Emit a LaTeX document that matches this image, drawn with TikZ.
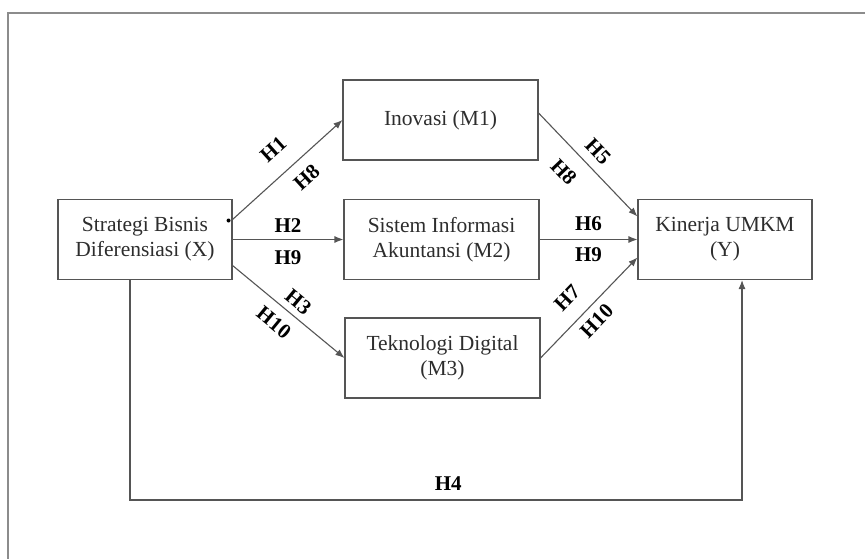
\documentclass[tikz,border=0pt]{standalone}
\usepackage{fontspec}
\setmainfont{Liberation Serif}
\usetikzlibrary{arrows.meta}
\definecolor{linegray}{RGB}{85,85,85}
\definecolor{framegray}{RGB}{140,140,140}
\definecolor{textgray}{RGB}{45,45,45}

\begin{document}
\begin{tikzpicture}[x=1pt, y=-1pt,
    box/.style={draw=linegray, line width=1.1pt, rectangle, minimum width=195pt, minimum height=80pt, align=center, text=textgray, font=\fontsize{21.5}{25}\selectfont},
    hlab/.style={font=\bfseries\fontsize{21}{24}\selectfont, text=black, inner sep=0pt},
    arr/.style={draw=linegray, line width=1.1pt, -{Latex[length=9pt, width=7pt]}}]
				\useasboundingbox (0,0) rectangle (865,559);
				% frame
				\draw[framegray, line width=1.4pt] (8,559) -- (8,13) -- (865,13);
				% nodes
				\node[box, minimum width=174pt] (x) at (145,239.5) {Strategi Bisnis\\Diferensiasi (X)};
				\node[box] (m1) at (440.5,120) {Inovasi (M1)};
				\node[box] (m2) at (441.5,239.5) {Sistem Informasi\\Akuntansi (M2)};
				\node[box] (m3) at (442.5,358) {Teknologi Digital\\(M3)};
				\node[box, minimum width=174pt] (y) at (725,239.5) {Kinerja UMKM\\(Y)};
				\fill ([xshift=-4pt, yshift=19pt]x.east) circle (2pt);
				% X to mediators
				\draw[arr] ([yshift=20pt]x.east) -- node[hlab, above=17pt, sloped, pos=0.52] {H1} node[hlab, below=11pt, sloped, pos=0.56] {H8} (m1.west);
				\draw[arr] (x.east) -- node[hlab, above=6pt] {H2} node[hlab, below=11pt] {H9} (m2.west);
				\draw[arr] ([yshift=-26pt]x.east) -- node[hlab, above=6pt, sloped, pos=0.51] {H3} node[hlab, below=10pt, sloped, pos=0.47] {H10} (m3.west);
				% mediators to Y
				\draw[arr] ([yshift=7pt]m1.east) -- node[hlab, above=9pt, sloped, pos=0.48] {H5} node[hlab, below=15pt, sloped, pos=0.42] {H8} ([yshift=23pt]y.west);
				\draw[arr] (m2.east) -- node[hlab, above=8pt] {H6} node[hlab, below=8pt] {H9} (y.west);
				\draw[arr] (m3.east) -- node[hlab, above=15pt, sloped, pos=0.44] {H7} node[hlab, below=7pt, sloped, pos=0.47] {H10} ([yshift=-18pt]y.west);
				% direct path
				\coordinate (h4l) at (130,500);
				\coordinate (h4r) at (742,500);
				\draw[arr] (x.south -| h4l) -- (h4l) -- node[hlab, above=9pt, pos=0.52] {H4} (h4r) -- (y.south -| h4r);
			\end{tikzpicture}
\end{document}
